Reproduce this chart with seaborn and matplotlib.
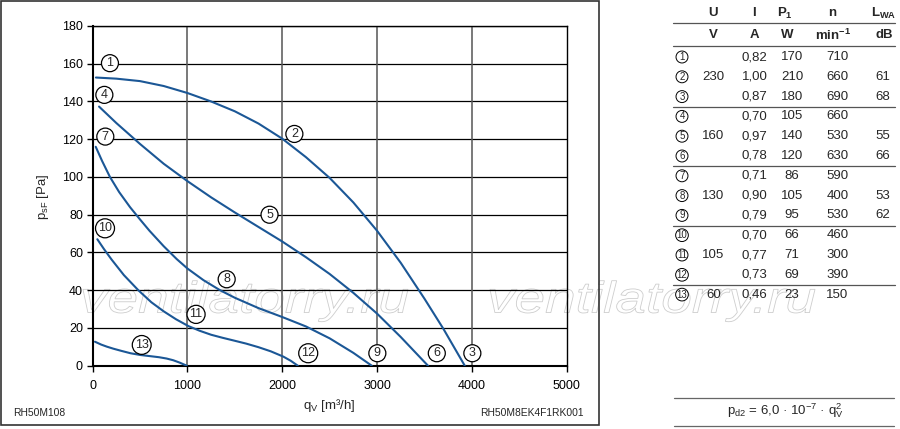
import numpy as np
import pandas as pd
import matplotlib
matplotlib.use("Agg")
import matplotlib.pyplot as plt
import matplotlib.transforms as mtransforms
import seaborn as sns
from matplotlib.patches import Rectangle, PathPatch
from matplotlib.textpath import TextPath
from matplotlib.font_manager import FontProperties

# characteristic curves (q_V in m3/h, p_sF in Pa)
curve_a_q = [35, 250, 500, 750, 1000, 1250, 1500, 1750, 2000, 2250, 2500, 2750, 3000, 3250, 3500, 3700, 3925]
curve_a_p = [152.7, 152.1, 150.8, 148.2, 144.5, 140.0, 134.8, 128.3, 120.3, 110.5, 99.5, 86.5, 71.5, 54.5, 35.5, 19.5, 0]
curve_b_q = [68, 250, 500, 750, 1000, 1250, 1500, 1750, 2000, 2250, 2500, 2750, 3000, 3250, 3537]
curve_b_p = [137.3, 128.6, 117.5, 107, 97.8, 89.2, 81.2, 73.5, 65.8, 57.5, 48.6, 38.6, 27.6, 15.2, 0]
curve_c_q = [33, 100, 183, 280, 395, 500, 600, 750, 887, 1000, 1170, 1344, 1500, 1750, 2000, 2250, 2500, 2750, 2944]
curve_c_p = [116, 108.5, 100, 92, 84, 77.5, 71.5, 63.3, 56.5, 51.5, 45.3, 40, 36, 30.5, 25.8, 20.8, 14.5, 6.8, 0]
curve_d_q = [50, 120, 201, 330, 482, 620, 750, 880, 1010, 1130, 1250, 1370, 1484, 1620, 1750, 1880, 2012, 2090, 2164]
curve_d_p = [67, 61.8, 56.2, 48, 40, 33.6, 28.8, 24.6, 21, 18.5, 16.4, 14.8, 13.4, 11.7, 9.8, 7.6, 4.8, 2.6, 0]
curve_e_q = [25, 90, 150, 220, 300, 400, 500, 600, 700, 780, 850, 920, 993]
curve_e_p = [12.7, 11.2, 10.1, 9, 7.9, 6.6, 5.7, 5.1, 4.5, 3.8, 2.9, 1.6, 0]

# circled operating point labels
label_num = [1, 2, 3, 4, 5, 6, 7, 8, 9, 10, 11, 12, 13]
label_q = [183, 2128, 4005, 124, 1866, 3630, 134, 1414, 3003, 131, 1091, 2274, 518]
label_p = [160.3, 122.8, 6.6, 143.5, 80, 6.6, 121.4, 45.8, 6.6, 72.8, 27.2, 6.6, 11]

# table values
volt = ["", "230", "", "", "160", "", "", "130", "", "", "105", "", "60"]
current = ["0,82", "1,00", "0,87", "0,70", "0,97", "0,78", "0,71", "0,90", "0,79", "0,70", "0,77", "0,73", "0,46"]
power = ["170", "210", "180", "105", "140", "120", "86", "105", "95", "66", "71", "69", "23"]
speed = ["710", "660", "690", "660", "530", "630", "590", "400", "530", "460", "300", "390", "150"]
noise = ["", "61", "68", "", "55", "66", "", "53", "62", "", "", "", ""]

curves = [("A", curve_a_q, curve_a_p), ("B", curve_b_q, curve_b_p), ("C", curve_c_q, curve_c_p),
          ("D", curve_d_q, curve_d_p), ("E", curve_e_q, curve_e_p)]
df = pd.concat([pd.DataFrame({"curve": name, "q": q, "p": p}) for name, q, p in curves],
               ignore_index=True)

sns.set_theme(style="white")
plt.rcParams["font.family"] = ["Liberation Sans", "DejaVu Sans"]
plt.rcParams["mathtext.fontset"] = "custom"
plt.rcParams["mathtext.rm"] = "Liberation Sans"
plt.rcParams["mathtext.it"] = "Liberation Sans:italic"
plt.rcParams["mathtext.bf"] = "Liberation Sans:bold"

W, H = 900, 429
fig = plt.figure(figsize=(W / 100, H / 100), dpi=100)


def px(x, y):
    return x / W, 1 - y / H


ax = fig.add_axes([92.6 / W, 1 - 365.7 / H, 474.1 / W, 339.7 / H])
ax.set_facecolor("none")

line_color = "#1b5796"
sns.lineplot(data=df, x="q", y="p", hue="curve", palette=[line_color] * 5,
             estimator=None, sort=False, legend=False, linewidth=1.5, ax=ax, zorder=3)
for ln in ax.get_lines():
    ln.set_solid_joinstyle("round")

ax.set_xlim(0, 5000)
ax.set_ylim(0, 180)
ax.set_xticks(range(0, 5001, 1000))
ax.set_yticks(range(0, 181, 20))
for yv in range(20, 181, 20):
    ax.axhline(yv, color="black", lw=0.9, zorder=1)
for xv in range(1000, 5000, 1000):
    ax.axvline(xv, color="#555555", lw=1.1, zorder=1)

for side in ["left", "bottom"]:
    ax.spines[side].set_linewidth(1.5)
    ax.spines[side].set_color("black")
for side in ["top", "right"]:
    ax.spines[side].set_linewidth(1.0)
    ax.spines[side].set_color("black")
ax.tick_params(axis="both", which="major", direction="out", length=4, width=1,
               color="black", labelsize=9, labelcolor="black", left=True, bottom=True)
ax.tick_params(axis="x", pad=6)
ax.tick_params(axis="y", pad=3)

ax.set_xlabel(r"q$_\mathrm{V}$ [m³/h]", fontsize=9.5, va="center")
ax.xaxis.set_label_coords(0.5, -0.1186)
ax.set_ylabel(r"p$_\mathrm{sF}$ [Pa]", fontsize=9.5, va="center")
ax.yaxis.set_label_coords(-0.1046, 0.4966)

for n, q, p in zip(label_num, label_q, label_p):
    ax.text(q, p, str(n), ha="center", va="center", fontsize=9, zorder=5,
            bbox=dict(boxstyle="circle,pad=0.2", fc="white", ec="black", lw=0.9))

# frame around the chart panel
fig.patches.append(Rectangle(px(1, 424.5), 598 / W, 423.5 / H, transform=fig.transFigure,
                             fill=False, ec="#333333", lw=1.2, zorder=4))

# watermark
fp = FontProperties(family="Liberation Sans", style="italic")
tp = TextPath((0, 0), "ventilatorry.ru", size=1, prop=fp)
bb = tp.get_extents()
for x0 in [83, 490]:
    sx = 325 / bb.width / W
    sy = 41 / bb.height / H
    tr = (mtransforms.Affine2D().translate(-bb.x0, -bb.y0).scale(sx, sy)
          .translate(x0 / W, 1 - 321.7 / H) + fig.transFigure)
    fig.patches.append(PathPatch(tp, transform=tr, fc="white", ec="#cdcdcd", lw=0.6, zorder=-1))

fig.text(*px(12.7, 413), "RH50M108", fontsize=7.4, ha="left", va="center")
fig.text(*px(583.7, 413), "RH50M8EK4F1RK001", fontsize=7.4, ha="right", va="center")

# table
head1 = [(713, r"$\mathbf{U}$"), (754, r"$\mathbf{I}$"), (785, r"$\mathbf{P_1}$"),
         (833, r"$\mathbf{n}$"), (884, r"$\mathbf{L_{WA}}$")]
head2 = [(713, "V"), (754, "A"), (787, "W"), (833, r"$\mathbf{min^{-1}}$"), (884, "dB")]
for x, s in head1:
    fig.text(*px(x, 13), s, fontsize=9.5, fontweight="bold", ha="center", va="center")
for x, s in head2:
    fig.text(*px(x, 35), s, fontsize=9.5, fontweight="bold", ha="center", va="center")

line_ys = [22.7, 46, 106.5, 165.5, 225.5, 285]
for y in line_ys:
    fig.add_artist(plt.Line2D([673 / W, 895 / W], [1 - y / H, 1 - y / H],
                              transform=fig.transFigure, color="#555555", lw=0.9))

cols = [(713.5, volt), (754.5, current), (792, power), (837.5, speed), (883, noise)]
for i in range(len(label_num)):
    y = 57 + i * 19.8
    fig.text(*px(682, y), str(label_num[i]), fontsize=7, ha="center", va="center",
             bbox=dict(boxstyle="circle,pad=0.1", fc="white", ec="black", lw=0.7))
    for x, vals in cols:
        if vals[i]:
            fig.text(*px(x, y), vals[i], fontsize=9.5, ha="center", va="center")

for y in [398.3, 425.5]:
    fig.add_artist(plt.Line2D([674 / W, 894 / W], [1 - y / H, 1 - y / H],
                              transform=fig.transFigure, color="#666666", lw=0.9))
fig.text(*px(785, 411), r"p$_\mathrm{d2}$ = 6,0 · 10$^\mathrm{-7}$ · q$_\mathrm{V}^\mathrm{2}$",
         fontsize=9.5, ha="center", va="center")

fig.savefig("out.png", dpi=100, facecolor="white")
plt.close(fig)
